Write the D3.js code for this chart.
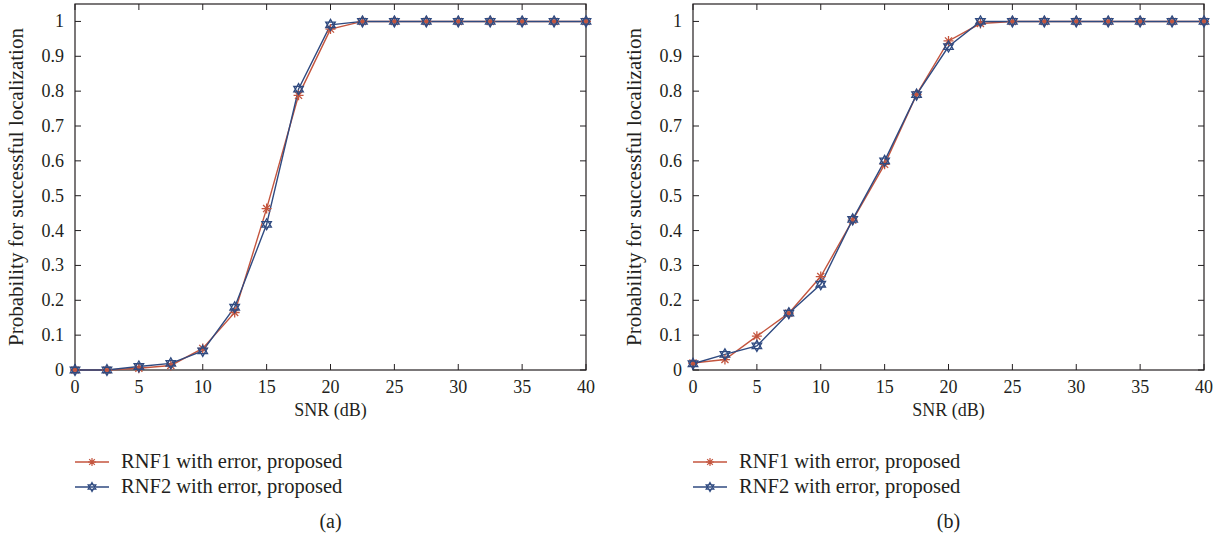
<!DOCTYPE html>
<html>
<head>
<meta charset="utf-8">
<script src="https://cdn.jsdelivr.net/npm/d3@7"></script>
<style>
  body { margin: 0; background: #fff; }
  text { font-family: "Liberation Serif", "DejaVu Serif", serif; fill: #231f20; }
</style>
</head>
<body>
<svg id="chart" width="1225" height="545"></svg>
<script>
// SNR values (dB)
var snr = [0, 2.5, 5, 7.5, 10, 12.5, 15, 17.5, 20, 22.5, 25, 27.5, 30, 32.5, 35, 37.5, 40];

// panel (a)
var rnf1A = [0, 0, 0.005, 0.013, 0.062, 0.165, 0.463, 0.788, 0.978, 1, 1, 1, 1, 1, 1, 1, 1];
var rnf2A = [0, 0, 0.010, 0.019, 0.055, 0.180, 0.418, 0.806, 0.990, 1, 1, 1, 1, 1, 1, 1, 1];

// panel (b)
var rnf1B = [0.020, 0.030, 0.097, 0.163, 0.268, 0.430, 0.590, 0.790, 0.944, 0.994, 1, 1, 1, 1, 1, 1, 1];
var rnf2B = [0.018, 0.045, 0.069, 0.163, 0.246, 0.432, 0.600, 0.790, 0.928, 1.000, 1, 1, 1, 1, 1, 1, 1];

var xTicks = [0, 5, 10, 15, 20, 25, 30, 35, 40];
var yTicks = [0, 0.1, 0.2, 0.3, 0.4, 0.5, 0.6, 0.7, 0.8, 0.9, 1];
var seriesNames = ["RNF1 with error, proposed", "RNF2 with error, proposed"];
var panelLabels = ["(a)", "(b)"];

var red = "#c4553e", blue = "#2f4a80";

var svg = d3.select("#chart");

var panels = [
  {left: 75, data: [rnf1A, rnf2A], label: panelLabels[0]},
  {left: 693, data: [rnf1B, rnf2B], label: panelLabels[1]}
];

var pw = 511, yTop = 4, yBottom = 370;

// star shapes
function asterisk(s) {
  var p = "";
  for (var i = 0; i < 4; i++) {
    var a = i * Math.PI / 4;
    var dx = Math.cos(a) * s, dy = Math.sin(a) * s;
    p += "M" + (-dx) + "," + (-dy) + "L" + dx + "," + dy;
  }
  return p;
}
function hexagram(s) {
  var tri = function(off) {
    var pts = d3.range(3).map(function(i) {
      var a = off + i * 2 * Math.PI / 3;
      return [Math.sin(a) * s, -Math.cos(a) * s];
    });
    return "M" + pts.join("L") + "Z";
  };
  return tri(0) + tri(Math.PI);
}

panels.forEach(function(p) {
  var x = d3.scaleLinear().domain([0, 40]).range([p.left, p.left + pw]);
  var y = d3.scaleLinear().domain([0, 1.05]).range([yBottom, yTop]);
  var g = svg.append("g");

  // box
  g.append("rect")
    .attr("x", p.left).attr("y", yTop)
    .attr("width", pw).attr("height", yBottom - yTop)
    .attr("fill", "none").attr("stroke", "#231f20").attr("stroke-width", 1.2);

  // ticks inward on all sides
  var tl = 6;
  xTicks.forEach(function(t) {
    g.append("line").attr("x1", x(t)).attr("x2", x(t)).attr("y1", yBottom).attr("y2", yBottom - tl)
      .attr("stroke", "#231f20");
    g.append("line").attr("x1", x(t)).attr("x2", x(t)).attr("y1", yTop).attr("y2", yTop + tl)
      .attr("stroke", "#231f20");
    g.append("text").attr("x", x(t)).attr("y", yBottom + 23)
      .attr("text-anchor", "middle").attr("font-size", 18).text(t);
  });
  yTicks.forEach(function(t) {
    g.append("line").attr("x1", p.left).attr("x2", p.left + tl).attr("y1", y(t)).attr("y2", y(t))
      .attr("stroke", "#231f20");
    g.append("line").attr("x1", p.left + pw).attr("x2", p.left + pw - tl).attr("y1", y(t)).attr("y2", y(t))
      .attr("stroke", "#231f20");
    g.append("text").attr("x", p.left - 11).attr("y", y(t) + 6)
      .attr("text-anchor", "end").attr("font-size", 18).text(t);
  });

  g.append("text").attr("x", p.left + pw / 2).attr("y", 416)
    .attr("text-anchor", "middle").attr("font-size", 18).text("SNR (dB)");
  g.append("text")
    .attr("transform", "translate(" + (p.left - 52) + "," + ((yTop + yBottom) / 2) + ") rotate(-90)")
    .attr("text-anchor", "middle").attr("font-size", 21)
    .text("Probability for successful localization");

  var line = d3.line().x(function(d, i) { return x(snr[i]); }).y(function(d) { return y(d); });
  var cols = [red, blue];
  var shapes = [asterisk(5), hexagram(5.5)];

  p.data.forEach(function(vals, k) {
    g.append("path").datum(vals).attr("d", line)
      .attr("fill", "none").attr("stroke", cols[k]).attr("stroke-width", 1.4);
  });
  p.data.forEach(function(vals, k) {
    g.selectAll(null).data(vals).enter().append("path")
      .attr("transform", function(d, i) { return "translate(" + x(snr[i]) + "," + y(d) + ")"; })
      .attr("d", shapes[k])
      .attr("fill", "none").attr("stroke", cols[k]).attr("stroke-width", 1.3);
  });

  // legend
  seriesNames.forEach(function(name, k) {
    var ly = 462 + k * 25;
    g.append("line").attr("x1", p.left).attr("x2", p.left + 34).attr("y1", ly).attr("y2", ly)
      .attr("stroke", cols[k]).attr("stroke-width", 1.4);
    g.append("path").attr("transform", "translate(" + (p.left + 17) + "," + ly + ")")
      .attr("d", k === 0 ? asterisk(4) : hexagram(4.5))
      .attr("fill", "none").attr("stroke", cols[k]).attr("stroke-width", 1.2);
    g.append("text").attr("x", p.left + 46).attr("y", ly + 6)
      .attr("font-size", 20.5).text(name);
  });

  g.append("text").attr("x", p.left + pw / 2).attr("y", 528)
    .attr("text-anchor", "middle").attr("font-size", 20).text(p.label);
});
</script>
</body>
</html>
